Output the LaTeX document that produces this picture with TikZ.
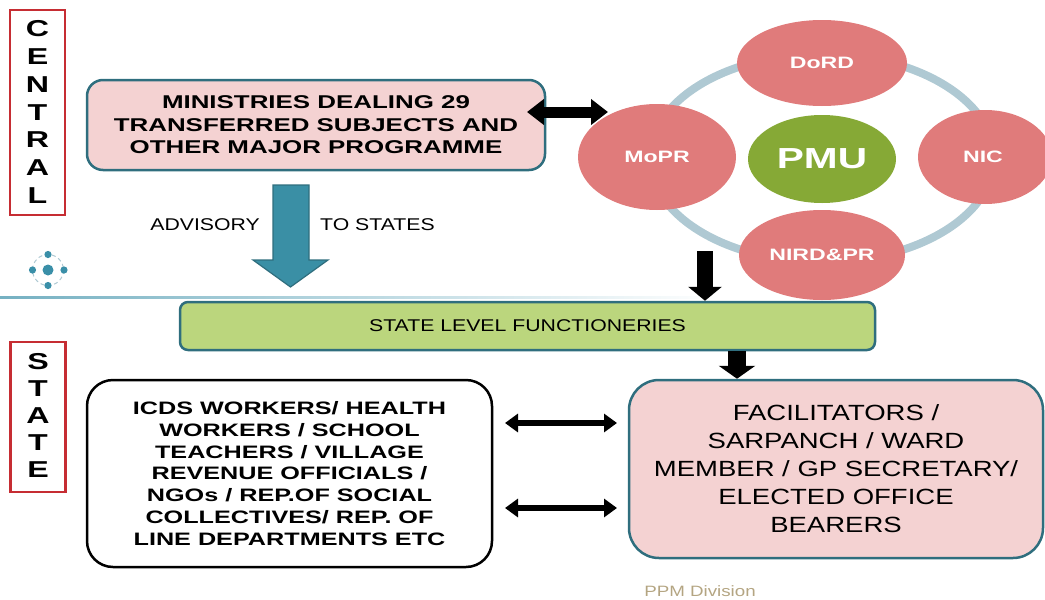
\documentclass[tikz,border=0pt]{standalone}
\usepackage{fontspec}
\setmainfont{Liberation Sans}[FakeStretch=1.25]
\newfontfamily\wbf{Liberation Sans Bold}[FakeStretch=1.4]
\usetikzlibrary{arrows.meta,shapes.geometric}
\definecolor{pinkfill}{HTML}{F4D2D2}
\definecolor{tealedge}{HTML}{2F6E7E}
\definecolor{elred}{HTML}{E07B7B}
\definecolor{pmugreen}{HTML}{86A936}
\definecolor{ringblue}{HTML}{AFC9D3}
\definecolor{stgreen}{HTML}{BBD67D}
\definecolor{tealarrow}{HTML}{3A8FA5}
\definecolor{frame}{HTML}{C62D33}
\definecolor{tan}{HTML}{B4A582}
\definecolor{icondot}{HTML}{3A8FA8}
\tikzset{
  sidebox/.style={draw=frame,line width=2.5pt,minimum width=55pt,inner sep=0pt},
  sideletter/.style={font=\wbf\fontsize{23}{23}\selectfont,inner sep=0pt},
  pinkbox/.style={draw=tealedge,fill=pinkfill,line width=2.5pt,rounded corners=16pt,align=center,inner sep=0pt},
  whitebox/.style={draw=black,fill=white,line width=2.5pt,rounded corners=26pt,align=center,inner sep=0pt},
  greenbox/.style={draw=tealedge,fill=stgreen,line width=2.5pt,rounded corners=8pt,align=center,inner sep=0pt},
  redell/.style={ellipse,fill=elred,text=white,font=\wbf\fontsize{16.5}{16.5}\selectfont,inner sep=0pt},
  fatarrow/.style={line width=11pt,{Triangle[width=25pt,length=17pt]}-{Triangle[width=25pt,length=17pt]}},
  thinarrow/.style={line width=6pt,{Triangle[width=18pt,length=13pt]}-{Triangle[width=18pt,length=13pt]}},
  plain/.style={font=\fontsize{17}{17}\selectfont,inner sep=0pt}
}
\begin{document}
\begin{tikzpicture}[x=1pt,y=-1pt]
\useasboundingbox (0,0) rectangle (1045,600);
% side frames
\node[sidebox,minimum height=205pt] (cframe) at (37.5,112.5) {};
\foreach \l [count=\i] in {C,E,N,T,R,A,L}
  \node[sideletter] (c\i) at (37.5,{29+(\i-1)*27.7}) {\l};
\node[sidebox,minimum height=150pt] (sframe) at (38,417) {};
\foreach \l [count=\i] in {S,T,A,T,E}
  \node[sideletter] (s\i) at (38,{362+(\i-1)*27}) {\l};
% icon
\draw[ringblue,line width=1pt,dash pattern=on 4pt off 3pt] (48,270) circle (15.5);
\fill[icondot] (48,270) circle (5.5);
\fill[icondot] (32.5,270) circle (3.6);
\fill[icondot] (64,270) circle (3.6);
\fill[icondot] (48,254.5) circle (3.6);
\fill[icondot] (48,285.5) circle (3.6);
% divider line
\shade[left color=icondot!70,right color=white] (0,296) rectangle (720,298.5);
% ring
\draw[ringblue,line width=8pt] (822,158) ellipse [x radius=172, y radius=104];
% ellipses
\node[redell,minimum width=170pt,minimum height=86pt] (dord) at (822,63) {DoRD};
\node[redell,minimum width=158pt,minimum height=106pt] (mopr) at (657,157) {MoPR};
\node[redell,minimum width=134pt,minimum height=94pt] (nic) at (985,157) {\hspace*{-4pt}NIC};
\node[redell,minimum width=166pt,minimum height=90pt] (nird) at (822,255) {NIRD\&PR};
\node[ellipse,fill=pmugreen,text=white,font=\wbf\fontsize{29}{29}\selectfont,minimum width=148pt,minimum height=88pt,inner sep=0pt] (pmu) at (822,159) {PMU};
% ministries
\node[pinkbox,minimum width=458pt,minimum height=90pt,font=\wbf\fontsize{18.5}{22.5}\selectfont] (min) at (316,125)
  {MINISTRIES DEALING 29\\TRANSFERRED SUBJECTS AND\\OTHER MAJOR PROGRAMME};
\coordinate (minR) at (527,112);
\coordinate (moprL) at (608,112);
\draw[fatarrow] (minR) -- (moprL);
% advisory arrow
\draw[draw=tealedge,fill=tealarrow,line width=1.2pt,line join=miter]
  (273,185) -- (309,185) -- (309,260) -- (328,260) -- (290.5,287) -- (253,260) -- (273,260) -- cycle;
\node[plain,anchor=east] (adv) at (260,225) {ADVISORY};
\node[plain,anchor=west] (tos) at (320,225) {TO STATES};
% state level
\node[greenbox,minimum width=695pt,minimum height=48pt,font=\fontsize{17}{17}\selectfont] (slf) at (527.5,326) {STATE LEVEL FUNCTIONERIES};
\coordinate (nirdArr) at (705,251);
\draw[line width=16pt,-{Triangle[width=33pt,length=14pt]}] (nirdArr) -- (nirdArr |- slf.north);
% bottom boxes
\node[whitebox,minimum width=405pt,minimum height=187pt,font=\wbf\fontsize{18}{21.8}\selectfont] (left) at (289.5,473.5)
  {ICDS WORKERS/ HEALTH\\WORKERS / SCHOOL\\TEACHERS / VILLAGE\\REVENUE OFFICIALS /\\NGOs / REP.OF SOCIAL\\COLLECTIVES/ REP. OF\\LINE DEPARTMENTS ETC};
\node[pinkbox,rounded corners=30pt,minimum width=414pt,minimum height=178pt,font=\fontsize{22}{28}\selectfont] (right) at (836,469)
  {FACILITATORS /\\SARPANCH / WARD\\MEMBER / GP SECRETARY/\\ELECTED OFFICE\\BEARERS};
\coordinate (a2) at (737,350);
\draw[line width=18pt,-{Triangle[width=36pt,length=13pt]}] (a2 |- slf.south) -- (a2 |- right.north);
\coordinate (la1) at (505,423);
\coordinate (ra1) at (617,423);
\coordinate (la2) at (505,508);
\coordinate (ra2) at (617,508);
\draw[thinarrow] (la1) -- (ra1);
\draw[thinarrow] (la2) -- (ra2);
% footer
\node[font=\fontsize{15}{15}\selectfont,text=tan,inner sep=0pt] (ppm) at (700,591) {PPM Division};
\end{tikzpicture}
\end{document}
